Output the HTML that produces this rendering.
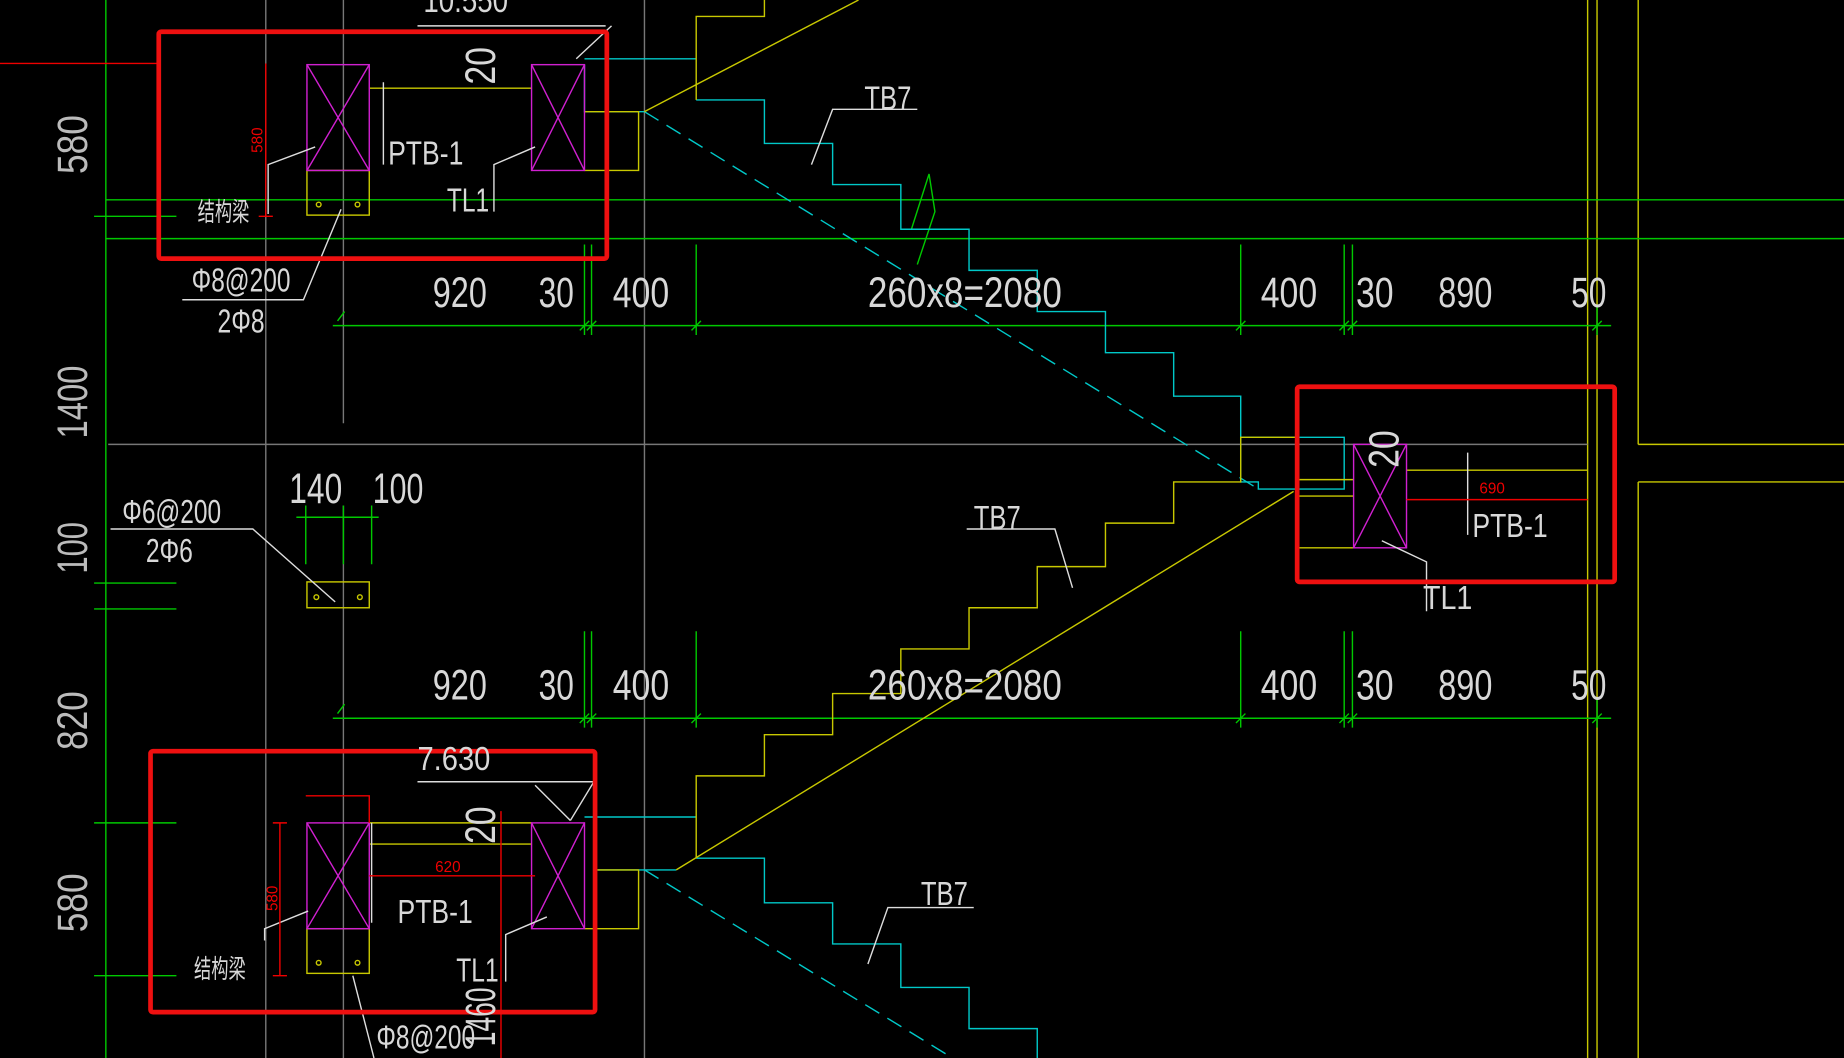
<!DOCTYPE html>
<html><head><meta charset="utf-8"><style>
html,body{margin:0;padding:0;background:#000;overflow:hidden}
svg{display:block}
text{font-family:"Liberation Sans","Noto Sans CJK SC",sans-serif;fill:#d8d8d8}
</style></head><body>
<svg width="1844" height="1058" viewBox="0 0 1568 900" preserveAspectRatio="none" xmlns="http://www.w3.org/2000/svg">
<rect width="1568" height="900" fill="#000"/>
<g stroke-width="1.2" fill="none">
<line x1="90" y1="0" x2="90" y2="900" stroke="#00c800"/>
<line x1="226" y1="0" x2="226" y2="900" stroke="#777"/>
<line x1="292" y1="0" x2="292" y2="360" stroke="#777"/>
<line x1="292" y1="430" x2="292" y2="900" stroke="#777"/>
<line x1="548" y1="0" x2="548" y2="900" stroke="#777"/>
<line x1="1350" y1="0" x2="1350" y2="900" stroke="#c8c800"/>
<line x1="1358" y1="0" x2="1358" y2="900" stroke="#c8c800"/>
<line x1="1393" y1="0" x2="1393" y2="378" stroke="#c8c800"/>
<line x1="1393" y1="410" x2="1393" y2="900" stroke="#c8c800"/>
<line x1="1393" y1="378" x2="1568" y2="378" stroke="#c8c800"/>
<line x1="1393" y1="410" x2="1568" y2="410" stroke="#c8c800"/>
<line x1="0" y1="54" x2="135" y2="54" stroke="#e00"/>
<line x1="90" y1="170" x2="1568" y2="170" stroke="#00c800"/>
<line x1="90" y1="203" x2="1568" y2="203" stroke="#00c800"/>
<line x1="92" y1="378" x2="1350" y2="378" stroke="#777"/>
<line x1="80" y1="184" x2="150" y2="184" stroke="#00c800"/>
<line x1="80" y1="496" x2="150" y2="496" stroke="#00c800"/>
<line x1="80" y1="518" x2="150" y2="518" stroke="#00c800"/>
<line x1="80" y1="700" x2="150" y2="700" stroke="#00c800"/>
<line x1="80" y1="830" x2="150" y2="830" stroke="#00c800"/>
<g stroke="#00c800">
<line x1="283" y1="277" x2="1370" y2="277"/>
<line x1="283" y1="611" x2="1370" y2="611"/>
<path d="M497 208V285M503 208V285M592 208V285M1055 208V285M1143 208V285M1150 208V285M1358 260V285M497 537V619M503 537V619M592 537V619M1055 537V619M1143 537V619M1150 537V619M1358 595V619"/>
<path d="M287 273l6-8M493 281l8-8M499 281l8-8M588 281l8-8M1051 281l8-8M1139 281l8-8M1146 281l8-8M1354 281l8-8M287 607l6-8M493 615l8-8M499 615l8-8M588 615l8-8M1051 615l8-8M1139 615l8-8M1146 615l8-8M1354 615l8-8"/>
<line x1="252" y1="440" x2="322" y2="440"/>
<path d="M260 430V480M292 430V480M316 430V480"/>
<path d="M775 195L790 148L795 180L780 225" />
</g>
<g stroke="#00c8c8">
<path d="M592 85H650V122H708V157H766V195H824V230H882V265H940V300H998V337H1055V410H1070L1070 416H1143V372H1055"/>
<path d="M548 95L1070 416" stroke-dasharray="14 8"/>
<path d="M592 730H650V768H708V803H766V840H824V875H882V900"/>
<path d="M548 740L810 900" stroke-dasharray="14 8"/>
<path d="M497 50H592M497 55V95H548M497 695H592M508 740H575"/>
</g>
<g stroke="#c8c800">
<path d="M592 85V14H650V0M548 95L730 0"/>
<path d="M592 730V660H650V625H708V590H766V552H824V517H882V482H940V445H998V410H1055V372H1103"/>
<path d="M575 740L1100 418"/>
<path d="M497 95H543V145H497M508 740H543V790H497"/>
<path d="M314 75H452M314 700H452M314 718H452"/>
<rect x="261" y="145" width="53" height="38"/>
<circle cx="271" cy="174" r="2"/><circle cx="304" cy="174" r="2"/>
<rect x="261" y="790" width="53" height="38"/>
<circle cx="271" cy="819" r="2"/><circle cx="304" cy="819" r="2"/>
<rect x="261" y="495" width="53" height="22"/>
<circle cx="269" cy="508" r="2"/><circle cx="306" cy="508" r="2"/>
<path d="M1103 408H1151M1103 422H1151M1103 466H1151M1196 400H1350"/>
</g>
<g stroke="#d020d0">
<rect x="261" y="55" width="53" height="90"/><path d="M261 55L314 145M314 55L261 145"/>
<rect x="452" y="55" width="45" height="90"/><path d="M452 55L497 145M497 55L452 145"/>
<rect x="1151" y="378" width="45" height="88"/><path d="M1151 378L1196 466M1196 378L1151 466"/>
<rect x="261" y="700" width="53" height="90"/><path d="M261 700L314 790M314 700L261 790"/>
<rect x="452" y="700" width="45" height="90"/><path d="M452 700L497 790M497 700L452 790"/>
</g>
<g stroke="#ddd">
<path d="M155 255H258L290 178M228 182V140L268 125"/>
<path d="M420 180V140L455 125M326 70V140M316 700V785M430 835V795L465 780"/>
<path d="M94 450H215L285 512"/>
<path d="M690 140L708 93H780M822 450H897L912 500M738 820L755 772H828"/>
<path d="M1248 385V455M1213 520V478L1175 460"/>
<path d="M355 665H505L485 698M455 668L485 698M520 22L490 50M355 22H515"/>
<path d="M300 830L318 900M225 800V790L262 775"/>
</g>
<g stroke="#e00">
<path d="M226 54V184M220 184H232M238 700V830M232 700H244M232 830H244M314 745H455M1196 425H1350M260 677H314V700M426 690V900"/>
</g>
<g stroke="#ee1010" stroke-width="4">
<rect x="135" y="27" width="381" height="193" rx="2"/>
<rect x="1103" y="329" width="270" height="166" rx="2"/>
<rect x="128" y="639" width="378" height="222" rx="2"/>
</g>
</g>
<g font-size="36">
<text x="368" y="261" textLength="46" lengthAdjust="spacingAndGlyphs">920</text>
<text x="458" y="261" textLength="30" lengthAdjust="spacingAndGlyphs">30</text>
<text x="521" y="261" textLength="48" lengthAdjust="spacingAndGlyphs">400</text>
<text x="738" y="261" textLength="165" lengthAdjust="spacingAndGlyphs">260x8=2080</text>
<text x="1072" y="261" textLength="48" lengthAdjust="spacingAndGlyphs">400</text>
<text x="1153" y="261" textLength="32" lengthAdjust="spacingAndGlyphs">30</text>
<text x="1223" y="261" textLength="46" lengthAdjust="spacingAndGlyphs">890</text>
<text x="1336" y="261" textLength="30" lengthAdjust="spacingAndGlyphs">50</text>
<text x="368" y="595" textLength="46" lengthAdjust="spacingAndGlyphs">920</text>
<text x="458" y="595" textLength="30" lengthAdjust="spacingAndGlyphs">30</text>
<text x="521" y="595" textLength="48" lengthAdjust="spacingAndGlyphs">400</text>
<text x="738" y="595" textLength="165" lengthAdjust="spacingAndGlyphs">260x8=2080</text>
<text x="1072" y="595" textLength="48" lengthAdjust="spacingAndGlyphs">400</text>
<text x="1153" y="595" textLength="32" lengthAdjust="spacingAndGlyphs">30</text>
<text x="1223" y="595" textLength="46" lengthAdjust="spacingAndGlyphs">890</text>
<text x="1336" y="595" textLength="30" lengthAdjust="spacingAndGlyphs">50</text>
<text x="246" y="428" textLength="45" lengthAdjust="spacingAndGlyphs">140</text>
<text x="317" y="428" textLength="43" lengthAdjust="spacingAndGlyphs">100</text>
</g>
<g font-size="36">
<text transform="translate(74,148) rotate(-90)" textLength="50" lengthAdjust="spacingAndGlyphs" style="fill:#bbb">580</text>
<text transform="translate(74,373) rotate(-90)" textLength="62" lengthAdjust="spacingAndGlyphs" style="fill:#bbb">1400</text>
<text transform="translate(74,488) rotate(-90)" textLength="44" lengthAdjust="spacingAndGlyphs" style="fill:#bbb">100</text>
<text transform="translate(74,638) rotate(-90)" textLength="50" lengthAdjust="spacingAndGlyphs" style="fill:#bbb">820</text>
<text transform="translate(74,793) rotate(-90)" textLength="50" lengthAdjust="spacingAndGlyphs" style="fill:#bbb">580</text>
<text transform="translate(421,72) rotate(-90)" textLength="32" lengthAdjust="spacingAndGlyphs">20</text>
<text transform="translate(421,718) rotate(-90)" textLength="32" lengthAdjust="spacingAndGlyphs">20</text>
<text transform="translate(1189,398) rotate(-90)" textLength="32" lengthAdjust="spacingAndGlyphs">20</text>
<text transform="translate(421,890) rotate(-90)" textLength="50" lengthAdjust="spacingAndGlyphs">1460</text>
</g>
<g font-size="28">
<text x="330" y="140" textLength="64" lengthAdjust="spacingAndGlyphs">PTB-1</text>
<text x="380" y="180" textLength="36" lengthAdjust="spacingAndGlyphs">TL1</text>
<text x="168" y="188" font-size="22" textLength="44" lengthAdjust="spacingAndGlyphs">结构梁</text>
<text x="163" y="248" textLength="84" lengthAdjust="spacingAndGlyphs">Φ8@200</text>
<text x="185" y="283" textLength="40" lengthAdjust="spacingAndGlyphs">2Φ8</text>
<text x="735" y="93" textLength="40" lengthAdjust="spacingAndGlyphs">TB7</text>
<text x="828" y="450" textLength="40" lengthAdjust="spacingAndGlyphs">TB7</text>
<text x="783" y="770" textLength="40" lengthAdjust="spacingAndGlyphs">TB7</text>
<text x="104" y="445" textLength="84" lengthAdjust="spacingAndGlyphs">Φ6@200</text>
<text x="124" y="478" textLength="40" lengthAdjust="spacingAndGlyphs">2Φ6</text>
<text x="355" y="655" textLength="62" lengthAdjust="spacingAndGlyphs">7.630</text>
<text x="360" y="10" textLength="72" lengthAdjust="spacingAndGlyphs">10.550</text>
<text x="1252" y="457" textLength="64" lengthAdjust="spacingAndGlyphs">PTB-1</text>
<text x="1210" y="518" textLength="42" lengthAdjust="spacingAndGlyphs">TL1</text>
<text x="338" y="785" textLength="64" lengthAdjust="spacingAndGlyphs">PTB-1</text>
<text x="388" y="835" textLength="36" lengthAdjust="spacingAndGlyphs">TL1</text>
<text x="165" y="832" font-size="22" textLength="44" lengthAdjust="spacingAndGlyphs">结构梁</text>
<text x="320" y="892" textLength="84" lengthAdjust="spacingAndGlyphs">Φ8@200</text>
</g>
<g font-size="13">
<text x="1258" y="420" style="fill:#e00">690</text>
<text x="370" y="742" style="fill:#e00">620</text>
<text transform="translate(223,130) rotate(-90)" style="fill:#e00">580</text>
<text transform="translate(236,775) rotate(-90)" style="fill:#e00">580</text>
</g>
</svg>
</body></html>
